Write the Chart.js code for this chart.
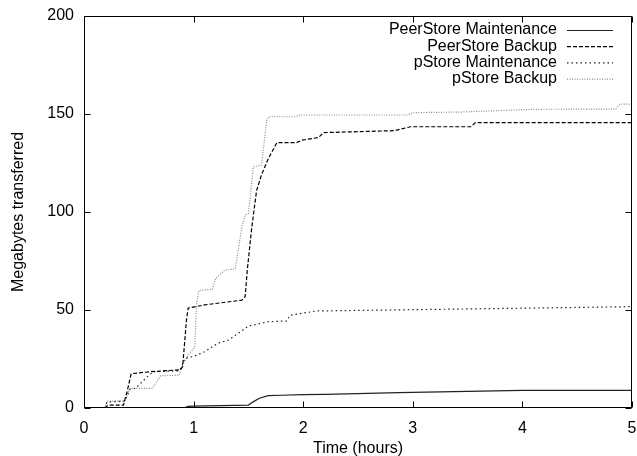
<!DOCTYPE html>
<html>
<head>
<meta charset="utf-8">
<script src="https://cdn.jsdelivr.net/npm/chart.js@4"></script>
<style>
  body { margin: 0; background: #fff; }
  #wrap { width: 637px; height: 456px; }
</style>
</head>
<body>
<div id="wrap"><canvas id="chart"></canvas></div>
<script>
// values (time in hours, MB transferred)
const seriesNames = ['PeerStore Maintenance', 'PeerStore Backup', 'pStore Maintenance', 'pStore Backup'];

const peerMaintTime = [0.91, 0.95, 1.0, 1.5, 1.54, 1.6, 1.68, 1.8, 2.0, 2.2, 2.87, 3.0, 4.0, 5.0];
const peerMaintMB   = [0, 0.8, 1.0, 1.5, 3.0, 5.0, 6.3, 6.5, 6.8, 7.0, 7.8, 8.0, 9.0, 9.0];

const peerBackupTime = [0.19, 0.22, 0.36, 0.40, 0.43, 0.6, 0.88, 0.9, 0.935, 0.95, 1.1, 1.44, 1.47, 1.49, 1.53, 1.575, 1.62, 1.68, 1.76, 1.94, 1.99, 2.14, 2.185, 2.83, 2.98, 3.53, 3.57, 5.0];
const peerBackupMB   = [0, 1.5, 1.5, 10, 17.5, 18.5, 19.5, 21, 45, 51, 52.6, 55, 56.8, 70.4, 91.8, 111, 119, 127, 135.4, 135.4, 136.7, 138, 140.5, 141.5, 143.5, 143.5, 145.6, 145.6];

const pMaintTime = [0.19, 0.21, 0.37, 0.42, 0.47, 0.56, 0.63, 0.87, 0.89, 0.92, 1.01, 1.10, 1.22, 1.32, 1.45, 1.5, 1.64, 1.67, 1.85, 1.88, 2.12, 2.78, 4.11, 5.0];
const pMaintMB   = [0, 3, 3.5, 9.5, 10, 15, 18.5, 19, 21, 25.3, 26.5, 28.7, 33, 34.7, 39.8, 41.8, 43.5, 44, 44.4, 47.3, 49.5, 50, 51, 51.7];

const pBackupTime = [0.19, 0.21, 0.37, 0.42, 0.62, 0.7, 0.87, 0.89, 0.95, 1.01, 1.027, 1.048, 1.17, 1.2, 1.285, 1.38, 1.438, 1.47, 1.5, 1.545, 1.62, 1.667, 1.69, 1.926, 1.97, 2.95, 3.01, 3.44, 4.11, 4.85, 4.89, 5.0];
const pBackupMB   = [0, 3.5, 3.5, 10, 10, 16.5, 16.7, 21, 27, 31, 53, 60, 60.5, 66, 70.4, 71, 91.7, 98.5, 99.3, 123, 124, 147, 148.6, 148.6, 149.5, 149.5, 150.7, 151, 152.4, 152.5, 155, 155];

const xTicksStep = 1;
const yTicksStep = 50;

function toPoints(xs, ys) {
    return xs.map((x, i) => ({ x: x, y: ys[i] }));
}

const FONT = 'Liberation Sans, Arial, Helvetica, sans-serif';

// no extra room for the tick labels, layout padding decides the plot box
function fixBox(s, size) {
    if (s.isHorizontal()) s.height = size; else s.width = size;
    s.paddingLeft = 0;
    s.paddingRight = 0;
    s.paddingTop = 0;
    s.paddingBottom = 0;
}

// gnuplot style box with inward ticks on all four sides
const framePlugin = {
    id: 'frame',
    afterDraw(chart) {
        const ctx = chart.ctx;
        const a = chart.chartArea;
        const l = Math.round(a.left) + 0.5, r = Math.round(a.right) - 0.5;
        const t = Math.round(a.top) + 0.5, b = Math.round(a.bottom) - 0.5;
        const len = 6;
        ctx.save();
        ctx.strokeStyle = '#000';
        ctx.lineWidth = 1;
        ctx.setLineDash([]);
        ctx.strokeRect(l, t, r - l, b - t);
        ctx.beginPath();
        chart.scales.x.ticks.forEach(tk => {
            const px = Math.round(chart.scales.x.getPixelForValue(tk.value)) + 0.5;
            ctx.moveTo(px, b); ctx.lineTo(px, b - len);
            ctx.moveTo(px, t); ctx.lineTo(px, t + len);
        });
        chart.scales.y.ticks.forEach(tk => {
            const py = Math.round(chart.scales.y.getPixelForValue(tk.value)) + 0.5;
            ctx.moveTo(l, py); ctx.lineTo(l + len, py);
            ctx.moveTo(r, py); ctx.lineTo(r - len, py);
        });
        ctx.stroke();
        ctx.restore();
    }
};

// legend: text right aligned, line sample on its right
const keyPlugin = {
    id: 'key',
    afterDraw(chart) {
        const ctx = chart.ctx;
        const textRight = 557, sampleL = 567, sampleR = 613;
        let y = 30;
        ctx.save();
        ctx.font = '16px ' + FONT;
        ctx.textAlign = 'right';
        ctx.textBaseline = 'middle';
        chart.data.datasets.forEach(ds => {
            ctx.fillStyle = '#000';
            ctx.fillText(ds.label, textRight, y);
            ctx.strokeStyle = ds.borderColor;
            ctx.lineWidth = ds.borderWidth;
            ctx.setLineDash(ds.borderDash || []);
            ctx.beginPath();
            ctx.moveTo(sampleL, y + 0.5);
            ctx.lineTo(sampleR, y + 0.5);
            ctx.stroke();
            y += 16.2;
        });
        ctx.restore();
    }
};

document.addEventListener('DOMContentLoaded', () => {
    const ctx = document.getElementById('chart').getContext('2d');
    new Chart(ctx, {
        type: 'line',
        data: {
            datasets: [
                {
                    label: seriesNames[0],
                    data: toPoints(peerMaintTime, peerMaintMB),
                    borderColor: '#222',
                    borderWidth: 1.2,
                    borderDash: []
                },
                {
                    label: seriesNames[1],
                    data: toPoints(peerBackupTime, peerBackupMB),
                    borderColor: '#000',
                    borderWidth: 1.2,
                    borderDash: [4, 2]
                },
                {
                    label: seriesNames[2],
                    data: toPoints(pMaintTime, pMaintMB),
                    borderColor: '#222',
                    borderWidth: 1.2,
                    borderDash: [1.5, 3]
                },
                {
                    label: seriesNames[3],
                    data: toPoints(pBackupTime, pBackupMB),
                    borderColor: '#888',
                    borderWidth: 1.2,
                    borderDash: [1, 1.5]
                }
            ]
        },
        options: {
            responsive: true,
            maintainAspectRatio: false,
            animation: false,
            elements: {
                point: { radius: 0 },
                line: { tension: 0, fill: false }
            },
            layout: {
                padding: { top: 16, right: 5, left: 0, bottom: 0 }
            },
            scales: {
                x: {
                    type: 'linear',
                    min: 0,
                    max: 5,
                    grid: { display: false, drawTicks: false },
                    border: { display: false },
                    ticks: {
                        stepSize: xTicksStep,
                        color: '#000',
                        padding: 11,
                        maxRotation: 0,
                        font: { family: FONT, size: 16 }
                    },
                    title: {
                        display: true,
                        text: 'Time (hours)',
                        color: '#000',
                        padding: 0,
                        font: { family: FONT, size: 16, lineHeight: 0.95 }
                    },
                    afterFit: s => fixBox(s, 48)
                },
                y: {
                    min: 0,
                    max: 200,
                    grid: { display: false, drawTicks: false },
                    border: { display: false },
                    ticks: {
                        stepSize: yTicksStep,
                        color: '#000',
                        padding: 10,
                        font: { family: FONT, size: 16 }
                    },
                    title: {
                        display: true,
                        text: 'Megabytes transferred',
                        color: '#000',
                        padding: { top: 9, bottom: 0 },
                        font: { family: FONT, size: 16, lineHeight: 1.2 }
                    },
                    afterFit: s => fixBox(s, 84)
                }
            },
            plugins: {
                legend: { display: false },
                tooltip: { enabled: false }
            }
        },
        plugins: [framePlugin, keyPlugin]
    });
});
</script>
</body>
</html>
